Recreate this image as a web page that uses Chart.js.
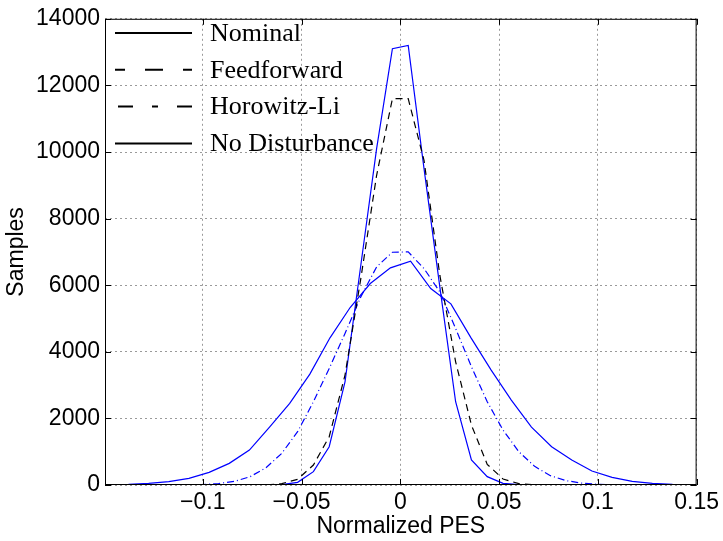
<!DOCTYPE html>
<html>
<head>
<meta charset="utf-8">
<script src="https://cdn.jsdelivr.net/npm/chart.js@4.4.0/dist/chart.umd.min.js"></script>
<style>
  html, body { margin: 0; padding: 0; background: #fff; }
  #wrap { width: 723px; height: 541px; }
</style>
</head>
<body>
<div id="wrap"><canvas id="pes" width="723" height="541"></canvas></div>
<script>
// Histogram bin centres (the nominal run has wider bins)
const wideBins = [-0.1478, -0.1376, -0.1274, -0.1172, -0.107, -0.0968, -0.0866, -0.0764, -0.0662, -0.056,
                  -0.0458, -0.0356, -0.0254, -0.0152, -0.005, 0.0052, 0.0154, 0.0256, 0.0358, 0.046,
                  0.0562, 0.0664, 0.0766, 0.0868, 0.097, 0.1072, 0.1174, 0.1276, 0.1378, 0.148];
const narrowBins = [-0.116, -0.108, -0.1, -0.092, -0.084, -0.076, -0.068, -0.06, -0.052, -0.044,
                    -0.036, -0.028, -0.02, -0.012, -0.004, 0.004, 0.012, 0.02, 0.028, 0.036,
                    0.044, 0.052, 0.06, 0.068, 0.076, 0.084, 0.092, 0.1, 0.108, 0.116];

// Sample counts per bin
const nominalCounts = [10, 20, 50, 100, 200, 380, 650, 1050, 1740, 2450,
                       3330, 4420, 5330, 6050, 6520, 6720, 5900, 5440, 4420, 3450,
                       2550, 1740, 1150, 750, 420, 230, 110, 50, 20, 8];
const feedforwardCounts = [0, 0, 0, 0, 0, 0, 5, 40, 170, 600,
                           1450, 3300, 6200, 9300, 11600, 11600, 9750, 6300, 3700, 1800,
                           620, 180, 40, 5, 0, 0, 0, 0, 0, 0];
const horowitzCounts = [2, 5, 15, 45, 110, 250, 520, 950, 1600, 2500,
                        3500, 4550, 5650, 6550, 6990, 7000, 6500, 5800, 4700, 3550,
                        2500, 1650, 1000, 560, 280, 130, 55, 20, 5, 2];
const noDisturbanceCounts = [0, 0, 0, 0, 0, 0, 0, 10, 80, 400,
                             1150, 3100, 6600, 10100, 13100, 13200, 9500, 5950, 2500, 750,
                             250, 50, 10, 0, 0, 0, 0, 0, 0, 0];

const xTicks = [-0.1, -0.05, 0, 0.05, 0.1, 0.15];
const yTicks = [0, 2000, 4000, 6000, 8000, 10000, 12000, 14000];

const toPoints = (xs, ys) => xs.map((x, i) => ({ x: x, y: ys[i] }));

const sans = 'Liberation Sans, Arial, sans-serif';
const serif = 'Liberation Serif, Times New Roman, serif';

// legend samples are black regardless of the plotted colour
const legendStyles = [
  { dash: [], offset: 0 },
  { dash: [18, 20], offset: 8 },
  { dash: [15, 19, 6, 19], offset: 56 },
  { dash: [], offset: 0 },
];

// MATLAB style box with inward ticks, plus the box-less legend
const boxAndLegend = {
  id: 'boxAndLegend',
  afterDatasetsDraw(chart) {
    const { ctx, chartArea: a, scales: { x, y } } = chart;
    ctx.save();
    ctx.strokeStyle = '#000';
    ctx.lineWidth = 1;
    ctx.setLineDash([]);
    ctx.strokeRect(a.left + 0.5, a.top + 0.5, a.right - a.left - 1, a.bottom - a.top - 1);
    ctx.beginPath();
    xTicks.forEach(v => {
      const px = Math.round(x.getPixelForValue(v)) + 0.5;
      ctx.moveTo(px, a.bottom); ctx.lineTo(px, a.bottom - 6);
      ctx.moveTo(px, a.top); ctx.lineTo(px, a.top + 6);
    });
    yTicks.forEach(v => {
      const py = Math.round(y.getPixelForValue(v)) + 0.5;
      ctx.moveTo(a.left, py); ctx.lineTo(a.left + 6, py);
      ctx.moveTo(a.right, py); ctx.lineTo(a.right - 6, py);
    });
    ctx.stroke();

    ctx.font = '26px ' + serif;
    ctx.fillStyle = '#000';
    ctx.textBaseline = 'middle';
    chart.data.datasets.forEach((ds, i) => {
      const ly = 33 + i * 36.8;
      const st = legendStyles[i];
      ctx.beginPath();
      ctx.lineWidth = 2;
      ctx.setLineDash(st.dash);
      ctx.lineDashOffset = st.offset;
      ctx.moveTo(115, ly);
      ctx.lineTo(192, ly);
      ctx.stroke();
      ctx.fillText(ds.label, 210, ly + 1);
    });
    ctx.restore();
  }
};

new Chart(document.getElementById('pes'), {
  type: 'line',
  data: {
    datasets: [
      { label: 'Nominal', data: toPoints(wideBins, nominalCounts),
        borderColor: '#0000ff', borderWidth: 1.2 },
      { label: 'Feedforward', data: toPoints(narrowBins, feedforwardCounts),
        borderColor: '#000000', borderWidth: 1.2, borderDash: [7, 5] },
      { label: 'Horowitz-Li', data: toPoints(narrowBins, horowitzCounts),
        borderColor: '#0000ff', borderWidth: 1.2, borderDash: [7, 3, 1, 3] },
      { label: 'No Disturbance', data: toPoints(narrowBins, noDisturbanceCounts),
        borderColor: '#0000ff', borderWidth: 1.2 },
    ],
  },
  options: {
    responsive: false,
    animation: false,
    layout: { padding: { top: 16, right: 21, left: 0, bottom: 0 } },
    elements: { point: { radius: 0 }, line: { tension: 0, fill: false } },
    plugins: { legend: { display: false }, tooltip: { enabled: false } },
    scales: {
      x: {
        type: 'linear', min: -0.1495, max: 0.15,
        afterBuildTicks: s => { s.ticks = xTicks.map(v => ({ value: v })); },
        afterFit: s => { s.height = 56; },
        grid: { color: '#9a9a9a', lineWidth: 1, drawTicks: false },
        border: { display: false, dash: [2, 3] },
        ticks: {
          color: '#000', font: { family: sans, size: 23 }, padding: 4,
          maxRotation: 0, autoSkip: false,
          callback: v => (v < 0 ? '\u2212' + Math.abs(v) : String(v)),
        },
        title: { display: true, text: 'Normalized PES', color: '#000',
                 font: { family: sans, size: 23 }, padding: { top: 0, bottom: 1 } },
      },
      y: {
        type: 'linear', min: 0, max: 14000,
        afterBuildTicks: s => { s.ticks = yTicks.map(v => ({ value: v })); },
        afterFit: s => { s.width = 105; },
        grid: { color: '#9a9a9a', lineWidth: 1, drawTicks: false },
        border: { display: false, dash: [2, 3] },
        ticks: { color: '#000', font: { family: sans, size: 23 }, padding: 5,
                 callback: v => String(v) },
        title: { display: true, text: 'Samples', color: '#000',
                 font: { family: sans, size: 23 }, padding: { top: 3, bottom: 0 } },
      },
    },
  },
  plugins: [boxAndLegend],
});
</script>
</body>
</html>
